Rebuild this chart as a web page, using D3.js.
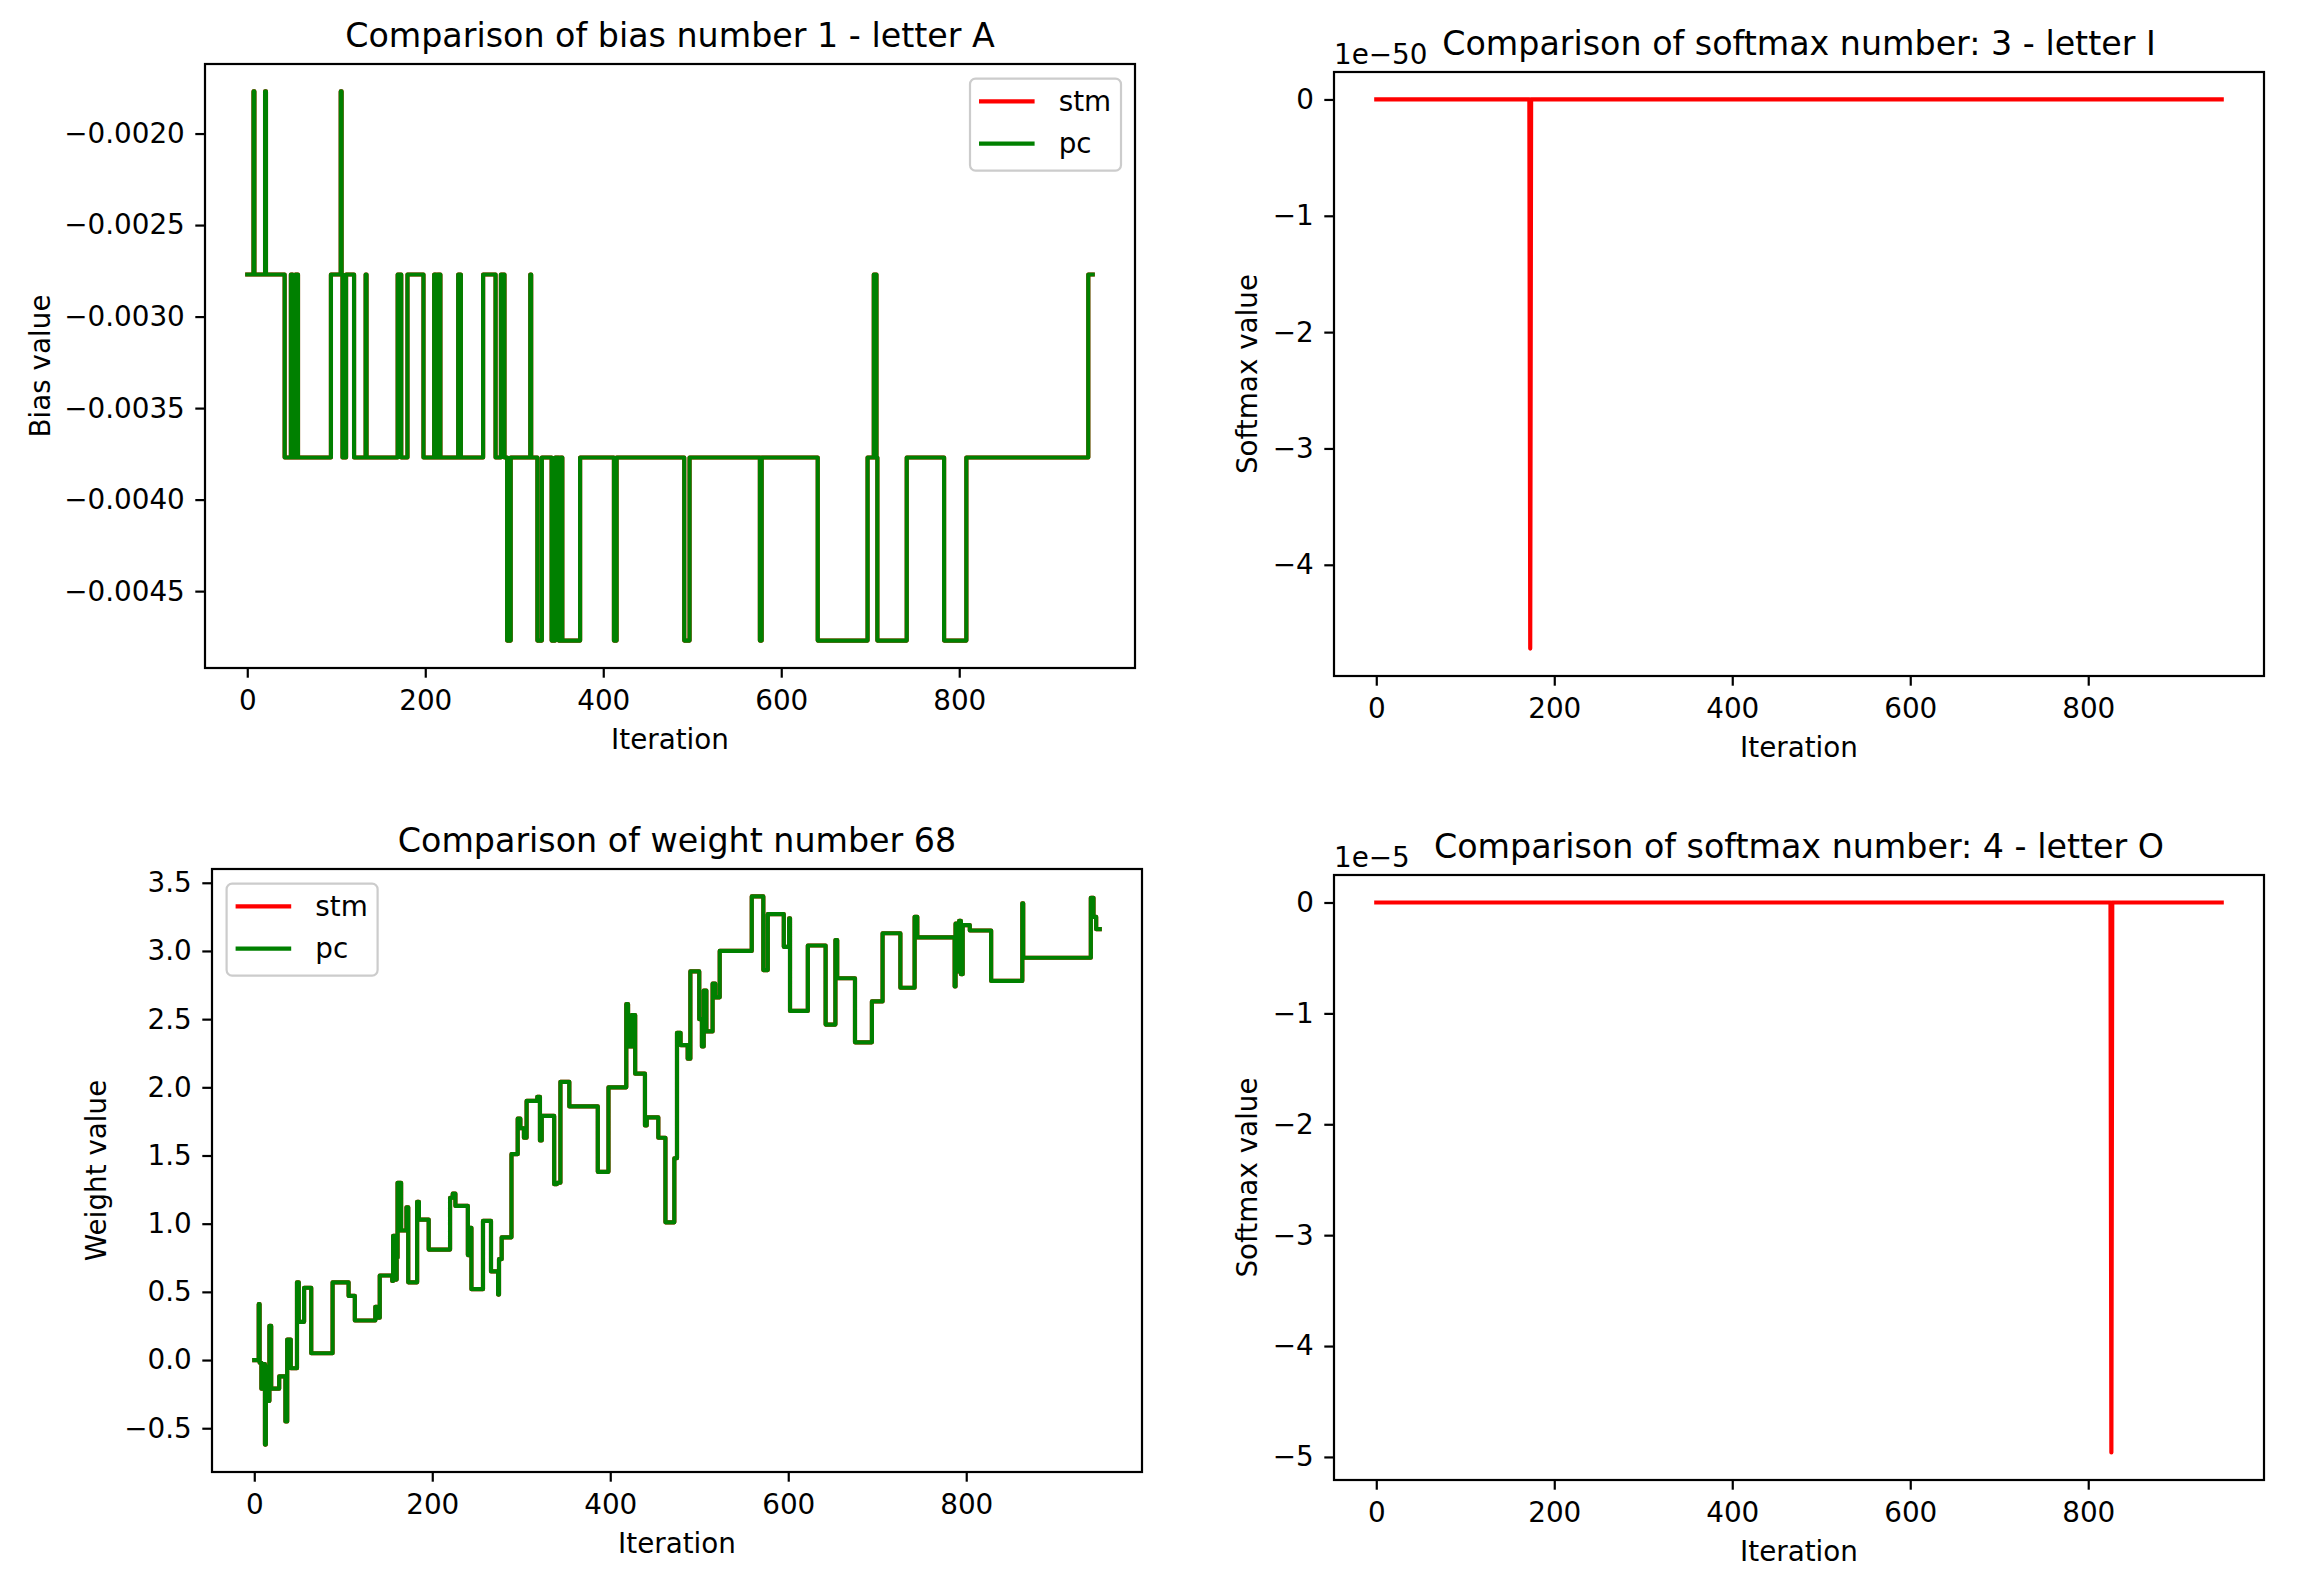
<!DOCTYPE html>
<html><head><meta charset="utf-8">
<script src="https://cdn.jsdelivr.net/npm/d3@7"></script>
<style>
body{margin:0;background:#fff}
svg{display:block}
text{font-family:"DejaVu Sans",sans-serif;fill:#000}
</style>
</head><body>
<script>
// ---------------- DATA ----------------
const iterMax = 950;
const xTicks = [0, 200, 400, 600, 800];

// Bias number 1 (letter A): change points (iteration, value held until next change)
const biasIter  = [0, 7, 8, 20, 21, 42, 49, 51, 54, 57, 94, 105, 106, 107, 111, 120, 133, 134, 169, 173, 180, 198, 210, 212, 214, 217, 237, 240, 265, 279, 285, 289, 292, 296, 318, 319, 326, 331, 342, 346, 350, 352, 354, 374, 412, 415, 491, 497, 576, 578, 641, 697, 704, 707, 708, 741, 783, 808, 945];
const biasValue = [-0.00277, -0.00177, -0.00277, -0.00177, -0.00277, -0.00377, -0.00277, -0.00377, -0.00277, -0.00377, -0.00277, -0.00177, -0.00277, -0.00377, -0.00277, -0.00377, -0.00277, -0.00377, -0.00277, -0.00377, -0.00277, -0.00377, -0.00277, -0.00377, -0.00277, -0.00377, -0.00277, -0.00377, -0.00277, -0.00377, -0.00277, -0.00377, -0.00477, -0.00377, -0.00277, -0.00377, -0.00477, -0.00377, -0.00477, -0.00377, -0.00477, -0.00377, -0.00477, -0.00377, -0.00477, -0.00377, -0.00477, -0.00377, -0.00477, -0.00377, -0.00477, -0.00377, -0.00277, -0.00377, -0.00477, -0.00377, -0.00477, -0.00377, -0.00277];
const biasTicks = [-0.0045, -0.0040, -0.0035, -0.0030, -0.0025, -0.0020];

// Weight number 68: change points
const weightIter  = [0, 5, 6, 8, 10, 12, 13, 15, 17, 19, 28, 35, 37, 41, 48, 50, 56, 64, 88, 106, 113, 136, 138, 141, 155, 156, 159, 160, 161, 165, 171, 173, 183, 185, 196, 220, 223, 226, 240, 242, 244, 257, 266, 274, 275, 278, 289, 296, 299, 303, 306, 318, 321, 323, 337, 340, 344, 354, 386, 398, 418, 420, 424, 428, 439, 441, 454, 462, 472, 475, 479, 487, 490, 500, 503, 505, 508, 515, 518, 523, 559, 572, 577, 595, 601, 602, 622, 642, 653, 655, 675, 694, 706, 726, 742, 745, 787, 788, 790, 792, 794, 796, 804, 828, 863, 864, 940, 943, 946];
const weightValue = [0.00, 0.41, -0.02, -0.21, -0.03, -0.62, -0.05, -0.30, 0.25, -0.21, -0.12, -0.45, 0.15, -0.06, 0.57, 0.28, 0.53, 0.05, 0.57, 0.47, 0.29, 0.39, 0.31, 0.62, 0.58, 0.91, 0.59, 0.75, 1.30, 0.95, 1.12, 0.57, 1.16, 1.03, 0.81, 1.19, 1.22, 1.13, 0.77, 0.97, 0.52, 1.02, 0.65, 0.48, 0.74, 0.90, 1.51, 1.77, 1.70, 1.63, 1.90, 1.93, 1.61, 1.79, 1.29, 1.30, 2.04, 1.86, 1.38, 2.00, 2.61, 2.30, 2.53, 2.10, 1.72, 1.78, 1.63, 1.01, 1.48, 2.40, 2.31, 2.21, 2.85, 2.50, 2.30, 2.71, 2.41, 2.76, 2.66, 3.00, 3.40, 2.86, 3.27, 3.03, 3.24, 2.56, 3.04, 2.46, 3.08, 2.80, 2.33, 2.63, 3.13, 2.73, 3.25, 3.10, 2.74, 3.20, 2.85, 3.22, 2.83, 3.19, 3.15, 2.78, 3.35, 2.95, 3.39, 3.25, 3.16];
const weightTicks = [-0.5, 0.0, 0.5, 1.0, 1.5, 2.0, 2.5, 3.0, 3.5];

// Softmax number 3 (letter I), scale 1e-50
const softmax3Iter  = [0, 172, 173, 174, 950];
const softmax3Value = [0, 0, -4.72e-50, 0, 0];
const softmax3Ticks = [-4e-50, -3e-50, -2e-50, -1e-50, 0];

// Softmax number 4 (letter O), scale 1e-5
const softmax4Iter  = [0, 825, 826, 827, 950];
const softmax4Value = [0, 0, -4.96e-5, 0, 0];
const softmax4Ticks = [-5e-5, -4e-5, -3e-5, -2e-5, -1e-5, 0];

// ---------------- DRAWING ----------------
const W = 2301, H = 1581;
const svg = d3.select("body").append("svg").attr("width", W).attr("height", H);

const TICK_FS = 27.8, TITLE_FS = 33.3;
const LW = 4.17, SPINE = 2.2, TLEN = 9.7;

function toPoints(iters, vals, endIter) {
  const pts = iters.map((it, i) => [it, vals[i]]);
  if (endIter !== undefined) pts.push([endIter, vals[vals.length - 1]]);
  return pts;
}

function panel(cfg) {
  const g = svg.append("g");
  const x = d3.scaleLinear()
    .domain([-0.05 * iterMax, iterMax * 1.05])
    .range([cfg.left, cfg.right]);
  const allVals = cfg.series.flatMap(s => s.values);
  const [lo, hi] = d3.extent(allVals);
  const m = (hi - lo) * 0.05;
  const y = d3.scaleLinear().domain([lo - m, hi + m]).range([cfg.bottom, cfg.top]);

  // lines
  cfg.series.forEach(s => {
    const pts = toPoints(s.iters, s.values, s.step ? iterMax : undefined);
    const line = d3.line().x(d => x(d[0])).y(d => y(d[1]))
      .curve(s.step ? d3.curveStepAfter : d3.curveLinear);
    g.append("path").attr("d", line(pts))
      .attr("fill", "none").attr("stroke", s.color)
      .attr("stroke-width", LW).attr("stroke-linejoin", "round")
      .attr("stroke-linecap", "square");
  });

  // axes
  const xa = g.append("g").attr("transform", `translate(0,${cfg.bottom})`)
    .call(d3.axisBottom(x).tickValues(xTicks).tickSize(TLEN).tickPadding(12.1).tickFormat(d3.format("d")));
  const ya = g.append("g").attr("transform", `translate(${cfg.left},0)`)
    .call(d3.axisLeft(y).tickValues(cfg.yTicks).tickSize(TLEN).tickPadding(10.5).tickFormat(cfg.yFmt));
  [xa, ya].forEach(a => {
    a.select(".domain").remove();
    a.attr("font-family", null).attr("font-size", null);
    a.selectAll("line").attr("stroke", "#000").attr("stroke-width", SPINE);
    a.selectAll("text").style("font-size", TICK_FS + "px").attr("fill", "#000");
  });

  // frame
  g.append("rect").attr("x", cfg.left).attr("y", cfg.top)
    .attr("width", cfg.right - cfg.left).attr("height", cfg.bottom - cfg.top)
    .attr("fill", "none").attr("stroke", "#000").attr("stroke-width", SPINE);

  // title
  g.append("text").attr("x", (cfg.left + cfg.right) / 2).attr("y", cfg.top - 16.7)
    .attr("text-anchor", "middle").style("font-size", TITLE_FS + "px").text(cfg.title);
  // x label
  g.append("text").attr("x", (cfg.left + cfg.right) / 2).attr("y", cfg.bottom + 81)
    .attr("text-anchor", "middle").style("font-size", TICK_FS + "px").text("Iteration");
  // y label
  g.append("text")
    .attr("transform", `translate(${cfg.ylabelX},${(cfg.top + cfg.bottom) / 2}) rotate(-90)`)
    .attr("text-anchor", "middle").style("font-size", TICK_FS + "px").text(cfg.ylabel);
  // offset text
  if (cfg.offset) {
    g.append("text").attr("x", cfg.left).attr("y", cfg.top - 8)
      .style("font-size", TICK_FS + "px").text(cfg.offset);
  }
  // legend
  if (cfg.legend) {
    const L = cfg.legend;
    const bx = L.anchor === "right" ? cfg.right - 14 - 151 : cfg.left + 14.6;
    const by = cfg.top + 14.6;
    g.append("rect").attr("x", bx).attr("y", by).attr("width", 151).attr("height", 92)
      .attr("rx", 5.5).attr("fill", "#fff").attr("fill-opacity", 0.8)
      .attr("stroke", "#cccccc").attr("stroke-width", SPINE);
    L.items.forEach((it, i) => {
      const cy = by + 22.8 + i * 42.2;
      g.append("line").attr("x1", bx + 9).attr("x2", bx + 64.6)
        .attr("y1", cy).attr("y2", cy).attr("stroke", it.color).attr("stroke-width", LW);
      g.append("text").attr("x", bx + 88.7).attr("y", cy).attr("dy", "0.35em")
        .style("font-size", TICK_FS + "px").text(it.label);
    });
  }
}

const legendItems = [{label: "stm", color: "red"}, {label: "pc", color: "green"}];

panel({
  left: 205, right: 1135, top: 64, bottom: 668,
  title: "Comparison of bias number 1 - letter A", ylabel: "Bias value", ylabelX: 50,
  yTicks: biasTicks, yFmt: d3.format(".4f"),
  series: [
    {iters: biasIter, values: biasValue, color: "red", step: true},
    {iters: biasIter, values: biasValue, color: "green", step: true}
  ],
  legend: {anchor: "right", items: legendItems}
});

panel({
  left: 1334, right: 2264, top: 72, bottom: 676,
  title: "Comparison of softmax number: 3 - letter I", ylabel: "Softmax value", ylabelX: 1257,
  yTicks: softmax3Ticks, yFmt: d => d3.format(".0f")(Math.round(d / 1e-50)),
  offset: "1e\u221250",
  series: [{iters: softmax3Iter, values: softmax3Value, color: "red", step: false}]
});

panel({
  left: 212, right: 1142, top: 869, bottom: 1472,
  title: "Comparison of weight number 68", ylabel: "Weight value", ylabelX: 106,
  yTicks: weightTicks, yFmt: d3.format(".1f"),
  series: [
    {iters: weightIter, values: weightValue, color: "red", step: true},
    {iters: weightIter, values: weightValue, color: "green", step: true}
  ],
  legend: {anchor: "left", items: legendItems}
});

panel({
  left: 1334, right: 2264, top: 875, bottom: 1480,
  title: "Comparison of softmax number: 4 - letter O", ylabel: "Softmax value", ylabelX: 1257,
  yTicks: softmax4Ticks, yFmt: d => d3.format(".0f")(Math.round(d / 1e-5)),
  offset: "1e\u22125",
  series: [{iters: softmax4Iter, values: softmax4Value, color: "red", step: false}]
});
</script>
</body></html>
